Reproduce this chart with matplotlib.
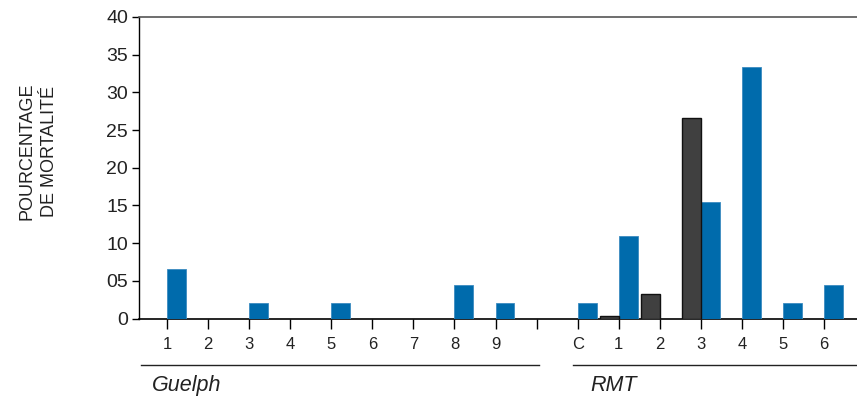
import matplotlib.pyplot as plt
import numpy as np

plt.rcParams['font.family'] = ['Liberation Sans', 'DejaVu Sans']

# categories: Guelph 1-9, a blank slot, then RMT C and 1-6
etiquetas = ['1', '2', '3', '4', '5', '6', '7', '8', '9', '',
             'C', '1', '2', '3', '4', '5', '6']
bleu = [6.6, 0, 2.1, 0, 2.1, 0, 0, 4.5, 2.1, 0,
        2.1, 11.0, 0, 15.5, 33.4, 2.1, 4.5]
gris = [0, 0, 0, 0, 0, 0, 0, 0, 0, 0,
        0, 0.3, 3.3, 26.6, 0, 0, 0]
yticks = [0, 5, 10, 15, 20, 25, 30, 35, 40]
ytick_labels = ['0', '05', '10', '15', '20', '25', '30', '35', '40']

x = np.arange(len(etiquetas))
bleu = np.array(bleu)
gris = np.array(gris)

fig = plt.figure(figsize=(8.57, 4.01), dpi=100)
ax = fig.add_axes([0.1622, 0.2057, 0.8378, 0.752])

larg = 0.46
m = bleu > 0
ax.bar(x[m], bleu[m], width=larg, align='edge', color='#006bac',
       edgecolor='#3b8bc0', linewidth=0.6, zorder=3)
m = gris > 0
ax.bar(x[m], gris[m], width=-larg, align='edge', color='#404040',
       edgecolor='#111111', linewidth=1.0, zorder=3)

ax.set_xlim(-0.68, 16.8)
ax.set_ylim(0, 40)
ax.set_xticks(x)
ax.set_xticklabels(etiquetas, fontsize=12, color='#222222')
ax.set_yticks(yticks)
ax.set_yticklabels(ytick_labels, fontsize=14, color='#222222')
ax.tick_params(axis='x', direction='out', length=7, width=1.0, pad=6)
ax.tick_params(axis='y', direction='out', length=5, width=1.0, pad=3)

ax.spines['right'].set_visible(False)
ax.spines['top'].set_color('#555555')
ax.spines['top'].set_linewidth(1.2)
ax.spines['left'].set_linewidth(1.0)
ax.spines['bottom'].set_linewidth(1.2)

# group underlines and names below the tick labels
tr = ax.get_xaxis_transform()
ax.plot([-0.63, 9.06], [-0.154, -0.154], transform=tr, color='#222222',
        lw=1.0, clip_on=False)
ax.plot([9.88, 16.8], [-0.154, -0.154], transform=tr, color='#222222',
        lw=1.0, clip_on=False)
ax.text(-0.37, -0.222, 'Guelph', transform=tr, fontsize=15.5,
        style='italic', ha='left', va='center', color='#222222')
ax.text(10.3, -0.222, 'RMT', transform=tr, fontsize=15.5,
        style='italic', ha='left', va='center', color='#222222')

fig.text(0.045, 0.623, 'POURCENTAGE\nDE MORTALITÉ', rotation=90,
         fontsize=13, ha='center', va='center', color='#222222',
         linespacing=1.45)

fig.savefig('out.png', dpi=100)
